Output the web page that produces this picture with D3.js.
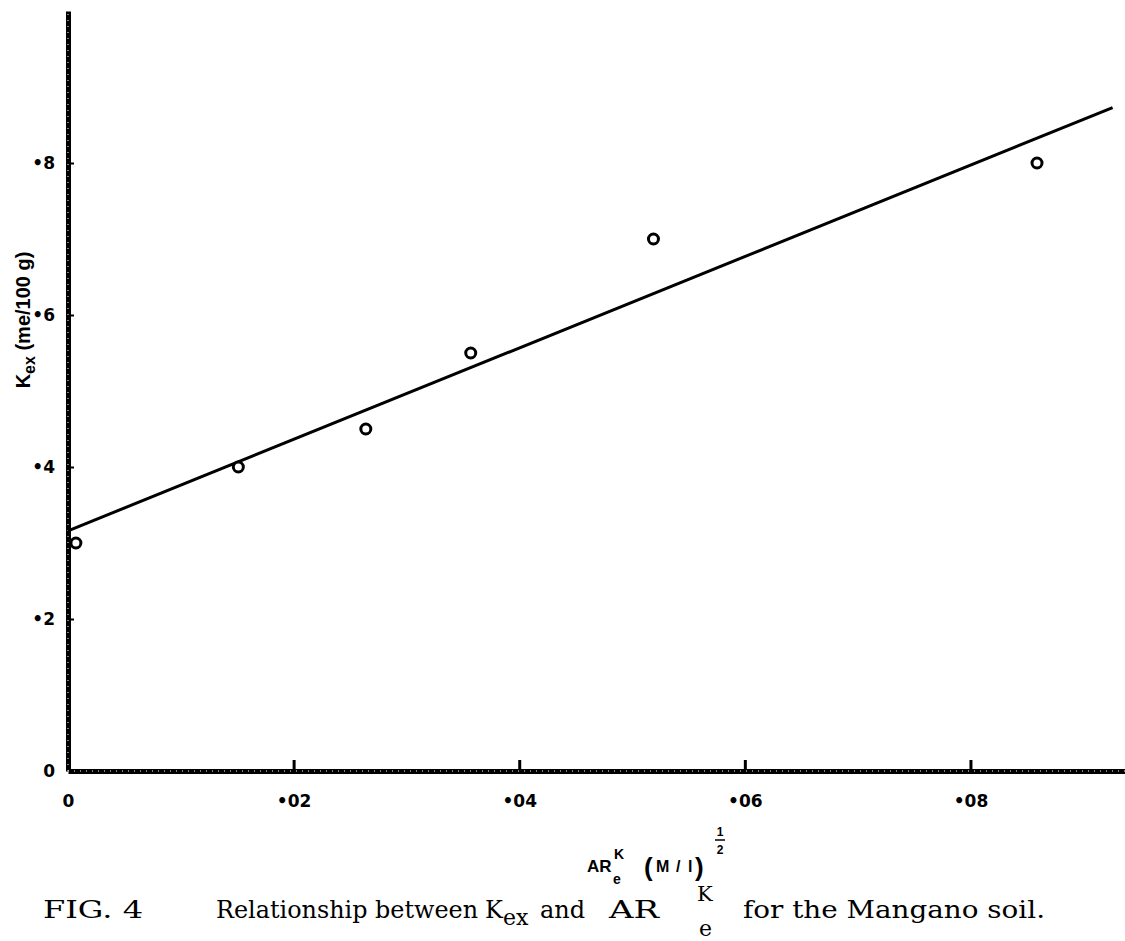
<!DOCTYPE html>
<html>
<head>
<meta charset="utf-8">
<script src="https://cdn.jsdelivr.net/npm/d3@7"></script>
<style>
  body { margin: 0; background: #fff; }
  .tick text { font-family: "DejaVu Sans", sans-serif; font-weight: bold; font-size: 17px; fill: #000; }
  .cap { font-family: "DejaVu Serif", serif; font-size: 24px; fill: #000; }
  .lab { font-family: "Liberation Sans", sans-serif; font-weight: bold; fill: #000; }
</style>
</head>
<body>
<svg id="chart"></svg>
<script>
// values
const arK = [0.0007, 0.0151, 0.0264, 0.0357, 0.0519, 0.0859];
const kEx = [0.30, 0.40, 0.45, 0.55, 0.70, 0.80];
// fitted line end points
const fitX = [0, 0.0926];
const fitY = [0.316, 0.873];
const xTicks = [0, 0.02, 0.04, 0.06, 0.08];
const yTicks = [0, 0.2, 0.4, 0.6, 0.8];

const width = 1125, height = 941;
const svg = d3.select('#chart').attr('width', width).attr('height', height);

const x = d3.scaleLinear().domain([0, 0.0937]).range([68, 1125]);
const y = d3.scaleLinear().domain([0, 1]).range([771, 11]);

// x axis
const xAxisG = svg.append('g')
  .attr('transform', `translate(0,${y(0)})`)
  .call(d3.axisBottom(x)
    .tickValues(xTicks)
    .tickSizeInner(-11)
    .tickSizeOuter(0)
    .tickPadding(24)
    .tickFormat(d => d === 0 ? '0' : '•' + d.toFixed(2).slice(2)));
xAxisG.select('.domain').attr('stroke', '#000').attr('stroke-width', 5);
xAxisG.selectAll('.tick line').attr('stroke', '#000').attr('stroke-width', 3)
  .filter(d => d === 0).remove();

// y axis
const yAxisG = svg.append('g')
  .attr('transform', `translate(${x(0)},0)`)
  .call(d3.axisLeft(y)
    .tickValues(yTicks)
    .tickSizeInner(-6)
    .tickSizeOuter(0)
    .tickPadding(13)
    .tickFormat(d => d === 0 ? '0' : '•' + Math.round(d * 10)));
yAxisG.select('.domain').attr('stroke', '#000').attr('stroke-width', 5);
yAxisG.selectAll('.tick line').attr('stroke', '#000').attr('stroke-width', 2)
  .filter(d => d === 0).remove();

// speckled look of the hand-inked axes
[[x(0), y(0), x(0), y(1)], [x(0), y(0), width, y(0)]].forEach(s => {
  svg.append('line')
    .attr('x1', s[0]).attr('y1', s[1]).attr('x2', s[2]).attr('y2', s[3])
    .attr('stroke', '#fff').attr('stroke-width', 1)
    .attr('stroke-dasharray', '1 5');
});

// fitted line
svg.append('line')
  .attr('x1', x(fitX[0])).attr('y1', y(fitY[0]))
  .attr('x2', x(fitX[1])).attr('y2', y(fitY[1]))
  .attr('stroke', '#000').attr('stroke-width', 3);

// observed points
svg.selectAll('.pt')
  .data(arK.map((d, i) => ({ a: d, k: kEx[i] })))
  .join('circle')
  .attr('class', 'pt')
  .attr('cx', d => x(d.a))
  .attr('cy', d => y(d.k))
  .attr('r', 5)
  .attr('fill', '#fff')
  .attr('stroke', '#000')
  .attr('stroke-width', 3);

// y axis title
const yt = svg.append('text')
  .attr('class', 'lab')
  .attr('transform', 'translate(30,320) rotate(-90)')
  .attr('text-anchor', 'middle')
  .style('font-size', '20px');
yt.append('tspan').text('K');
yt.append('tspan').attr('dy', 5).style('font-size', '16px').text('ex');
yt.append('tspan').attr('dy', -5).text(' (me/100 g)');

// x axis title
const xt = svg.append('text').attr('class', 'lab').style('font-size', '17px');
xt.append('tspan').attr('x', 587).attr('y', 872).text('AR');
xt.append('tspan').attr('x', 613).attr('y', 884).style('font-size', '14px').text('e');
xt.append('tspan').attr('x', 614).attr('y', 859).style('font-size', '14px').text('K');
const pm = svg.append('text').attr('class', 'lab').attr('y', 876);
pm.append('tspan').attr('x', 644).style('font-size', '26px').text('(');
pm.append('tspan').attr('x', 656).attr('y', 872).style('font-size', '16px').text('M');
pm.append('tspan').attr('x', 676).style('font-size', '16px').text('/');
pm.append('tspan').attr('x', 688).style('font-size', '16px').text('l');
pm.append('tspan').attr('x', 695).attr('y', 876).style('font-size', '26px').text(')');
svg.append('text').attr('class', 'lab').attr('x', 720).attr('y', 836)
  .attr('text-anchor', 'middle').style('font-size', '12px').text('1');
svg.append('line').attr('x1', 715).attr('x2', 725).attr('y1', 840).attr('y2', 840)
  .attr('stroke', '#000').attr('stroke-width', 1.5);
svg.append('text').attr('class', 'lab').attr('x', 720).attr('y', 854)
  .attr('text-anchor', 'middle').style('font-size', '12px').text('2');

// caption
svg.append('text').attr('class', 'cap').attr('x', 43).attr('y', 918)
  .attr('textLength', 100).attr('lengthAdjust', 'spacingAndGlyphs').text('FIG. 4');
const cap = svg.append('text').attr('class', 'cap').attr('y', 918);
cap.append('tspan').attr('x', 216).attr('textLength', 262).attr('lengthAdjust', 'spacingAndGlyphs')
  .text('Relationship between');
cap.append('tspan').attr('x', 485).text('K');
cap.append('tspan').attr('x', 503).attr('dy', 7).style('font-size', '22px').text('ex');
cap.append('tspan').attr('x', 540).attr('dy', -7).text('and');
cap.append('tspan').attr('x', 609).attr('textLength', 50).attr('lengthAdjust', 'spacingAndGlyphs').text('AR');
cap.append('tspan').attr('x', 697).attr('dy', -17).style('font-size', '21px').text('K');
cap.append('tspan').attr('x', 699).attr('dy', 35).style('font-size', '22px').text('e');
cap.append('tspan').attr('x', 743).attr('dy', -18).attr('textLength', 302).attr('lengthAdjust', 'spacingAndGlyphs')
  .text('for the Mangano soil.');
</script>
</body>
</html>
